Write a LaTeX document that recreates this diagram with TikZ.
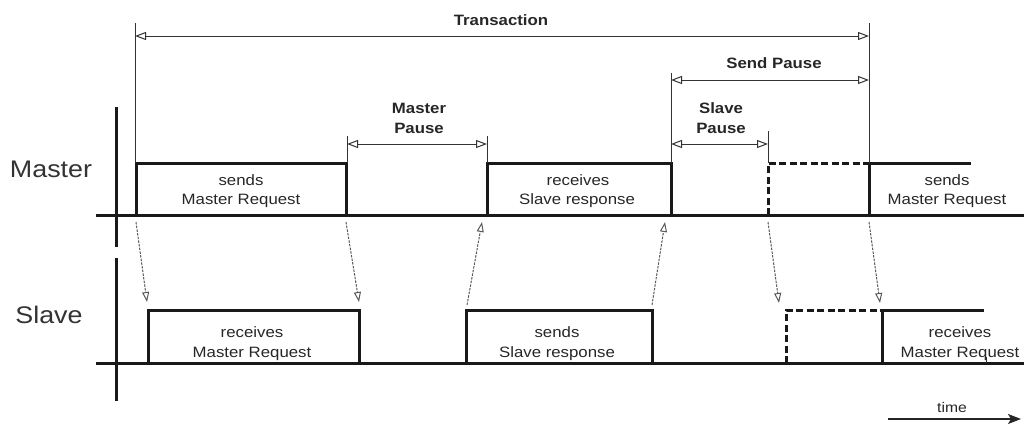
\documentclass[tikz,border=0pt]{standalone}
\usepackage{fontspec}
\setmainfont{Liberation Sans}[FakeStretch=1.12]
\usetikzlibrary{arrows.meta}

\begin{document}
\begin{tikzpicture}[x=1pt,y=-1pt,
  wave/.style={line width=3pt, draw=black!90, line join=miter},
  dashwave/.style={wave, dash pattern=on 7pt off 3.5pt},
  axisline/.style={line width=3pt, draw=black!90},
  dim/.style={line width=1pt, draw=black!80,
    {Triangle[open,length=11pt,width=8pt,line width=1pt]}-{Triangle[open,length=11pt,width=8pt,line width=1pt]}},
  guide/.style={line width=1pt, draw=black!80},
  sig/.style={line width=1pt, draw=black!65, dash pattern=on 2.5pt off 1.2pt,
    -{Triangle[open,length=10pt,width=7pt,line width=1pt]}},
  lbl/.style={anchor=base, inner sep=0pt, text=black!85, font=\fontsize{15}{18}\selectfont},
  blbl/.style={lbl, font=\fontsize{15}{18}\selectfont\bfseries},
  big/.style={anchor=base, inner sep=0pt, text=black!80, font=\fontsize{24}{28}\selectfont}
]
\useasboundingbox (0,0) rectangle (1024,426);

% ---- row names and axis ----
\node[big] (nmaster) at (51,177) {Master};
\node[big] (nslave)  at (49,323) {Slave};
\draw[axisline] (116,107) -- (116,247);
\draw[axisline] (116,258) -- (116,401);

% ---- baselines ----
\draw[wave] (96,215) -- (1024,215);
\draw[wave] (96,363) -- (1024,363);

% ---- Master line ----
\draw[wave] (136,215) -- (136,163) -- (346,163) -- (346,215);
\draw[wave] (487,215) -- (487,163) -- (671,163) -- (671,215);
\draw[dashwave] (768,215) -- (768,163) -- (869,163);
\draw[wave] (869,215) -- (869,163) -- (971,163);

% ---- Slave line ----
\draw[wave] (148,363) -- (148,310) -- (359,310) -- (359,363);
\draw[wave] (466,363) -- (466,310) -- (652,310) -- (652,363);
\draw[dashwave] (786,363) -- (786,310) -- (882,310);
\draw[wave] (882,363) -- (882,310) -- (984,310);
\draw[line width=1pt, draw=black!80] (986,357) -- (986,363);

% ---- pulse texts ----
\node[lbl] (m1a) at (241,185) {sends};
\node[lbl] (m1b) at (241,204) {Master Request};
\node[lbl] (m2a) at (578,185) {receives};
\node[lbl] (m2b) at (577,204) {Slave response};
\node[lbl] (m3a) at (947,185) {sends};
\node[lbl] (m3b) at (947,204) {Master Request};
\node[lbl] (s1a) at (252,337) {receives};
\node[lbl] (s1b) at (252,357) {Master Request};
\node[lbl] (s2a) at (557,337) {sends};
\node[lbl] (s2b) at (557,357) {Slave response};
\node[lbl] (s3a) at (960,337) {receives};
\node[lbl] (s3b) at (960,357) {Master Request};

% ---- dimension guides ----
\coordinate (tL) at (135,36);
\coordinate (tR) at (869,36);
\draw[guide] (135,23) -- (135,163);
\draw[guide] (869,23) -- (869,163);
\draw[dim] (tL) -- (tR);
\node[blbl] (ttrans) at (501,25) {Transaction};

\coordinate (spL) at (671,80);
\coordinate (spR) at (869,80);
\draw[guide] (671,73) -- (671,163);
\draw[dim] (spL) -- (spR);
\node[blbl] (tsend) at (774,68) {Send Pause};

\coordinate (mpL) at (347,144);
\coordinate (mpR) at (487,144);
\draw[guide] (347,136) -- (347,163);
\draw[guide] (487,136) -- (487,163);
\draw[dim] (mpL) -- (mpR);
\node[blbl] (tmp1) at (419,113) {Master};
\node[blbl] (tmp2) at (419,133) {Pause};

\coordinate (slL) at (671,144);
\coordinate (slR) at (768,144);
\draw[guide] (768,131) -- (768,163);
\draw[dim] (slL) -- (slR);
\node[blbl] (tsp1) at (721,113) {Slave};
\node[blbl] (tsp2) at (721,133) {Pause};

% ---- signal transfer arrows ----
\coordinate (a1s) at (136,222); \coordinate (a1e) at (147,302);
\coordinate (a2s) at (346,222); \coordinate (a2e) at (359,302);
\coordinate (a3s) at (467,305); \coordinate (a3e) at (482,222);
\coordinate (a4s) at (652,305); \coordinate (a4e) at (665,222);
\coordinate (a5s) at (768,222); \coordinate (a5e) at (779,303);
\coordinate (a6s) at (869,222); \coordinate (a6e) at (880,303);
\draw[sig] (a1s) -- (a1e);
\draw[sig] (a2s) -- (a2e);
\draw[sig] (a3s) -- (a3e);
\draw[sig] (a4s) -- (a4e);
\draw[sig] (a5s) -- (a5e);
\draw[sig] (a6s) -- (a6e);

% ---- time arrow ----
\coordinate (ts) at (888,419);
\coordinate (te) at (1021,419);
\draw[line width=1.5pt, draw=black!85, -{Stealth[length=13pt,width=10pt,inset=3pt,fill=black!85]}] (ts) -- (te);
\node[lbl, font=\fontsize{14}{16}\selectfont] (ttime) at (952,412) {time};
\end{tikzpicture}
\end{document}
